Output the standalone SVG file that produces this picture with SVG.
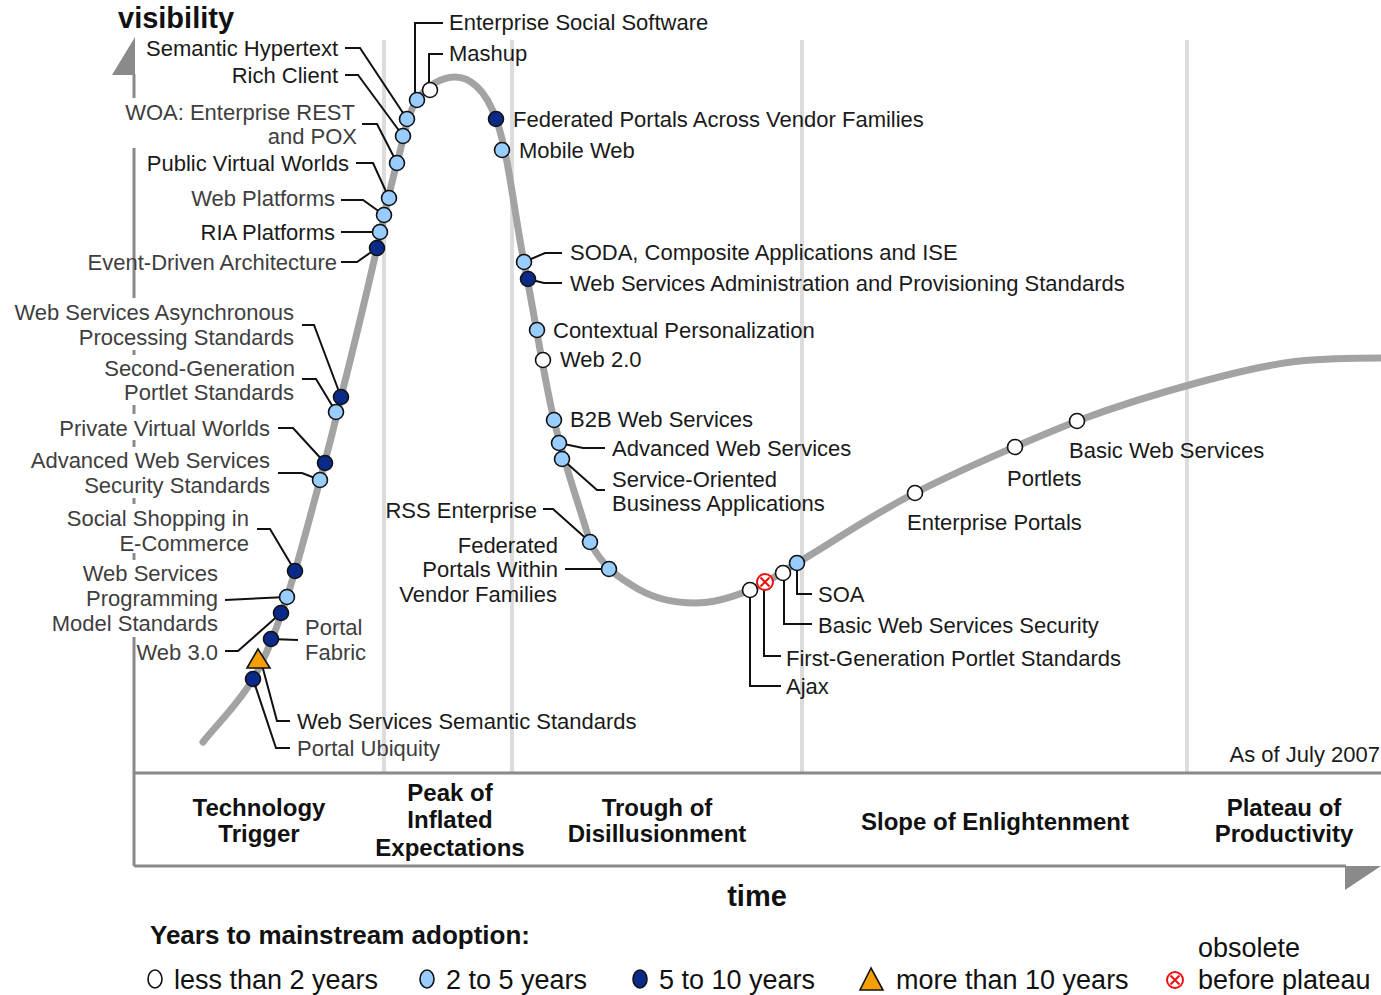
<svg xmlns="http://www.w3.org/2000/svg" width="1381" height="995" viewBox="0 0 1381 995">
<style>
text{font-family:"Liberation Sans",Arial,sans-serif;font-size:22px;fill:#1a1a1a}
.g{fill:#3e3e3e}
.e{text-anchor:end}
.c{text-anchor:middle}
.ph{font-weight:bold;font-size:24px;fill:#111}
.lg{font-size:27px;fill:#111}
.bg{fill:#fff}
.grid{stroke:#dcdcdc;stroke-width:4}
.axis{stroke:#8a8a8a;stroke-width:3;fill:none}
.curve{stroke:#a3a3a3;stroke-width:7;fill:none;stroke-linecap:round;stroke-linejoin:round}
.cn{stroke:#111;stroke-width:2;fill:none}
.mk{stroke:#111;stroke-width:1.6}
.m0{fill:#fff}
.m1{fill:#99ccff}
.m2{fill:#0a2a8a}
.tri{fill:#f5a000;stroke:#111;stroke-width:1.6}
.ob{fill:#fff;stroke:#ee1111;stroke-width:2}
.obx{stroke:#ee1111;stroke-width:2}
</style>
<defs>
<g id="obs"><circle class="ob" r="8"/><path class="obx" d="M-4.5,-4.5L4.5,4.5M4.5,-4.5L-4.5,4.5"/></g>
</defs>
<rect width="1381" height="995" fill="#fff"/>
<g id="grid">
<line class="grid" x1="384" y1="40" x2="384" y2="773"/>
<line class="grid" x1="512" y1="40" x2="512" y2="773"/>
<line class="grid" x1="802" y1="40" x2="802" y2="773"/>
<line class="grid" x1="1187" y1="40" x2="1187" y2="773"/>
</g>
<g id="axes">
<line class="axis" x1="134" y1="74" x2="134" y2="866"/>
<polygon points="135,37 112,75 135,75" fill="#8a8a8a"/>
<line class="axis" x1="134" y1="773" x2="1381" y2="773"/>
<line class="axis" x1="134" y1="866" x2="1346" y2="866"/>
<polygon points="1345,866 1381,866 1345,890" fill="#8a8a8a"/>
<text x="118" y="28" style="font-weight:bold;font-size:29px;fill:#111">visibility</text>
<text x="757" y="906" class="c" style="font-weight:bold;font-size:29px;fill:#111">time</text>
<text x="1380" y="762" class="e">As of July 2007</text>
</g>
<g id="phases">
<text class="ph c" x="259" y="816">Technology</text>
<text class="ph c" x="259" y="842">Trigger</text>
<text class="ph c" x="450" y="801">Peak of</text>
<text class="ph c" x="450" y="828">Inflated</text>
<text class="ph c" x="450" y="856">Expectations</text>
<text class="ph c" x="657" y="816">Trough of</text>
<text class="ph c" x="657" y="842">Disillusionment</text>
<text class="ph c" x="995" y="830">Slope of Enlightenment</text>
<text class="ph c" x="1284" y="816">Plateau of</text>
<text class="ph c" x="1284" y="842">Productivity</text>
</g>
<path id="hype-curve" class="curve" d="M203,742 C220,721 239,703 253,679 C267,655 276,630 287,597 C298,564 311,513 320,480 C329,447 332,436 341,397 C351,358 368,287 377,248 C386,209 390,188 397,163 C404,138 407,114 417,100 C427,86 441,77 455,77 C469,77 485,88 496,119 C508,150 514,212 524,262 C534,312 543,373 554,420 C565,467 576,495 590,542 C604,570 623,580 640,590 C658,600 677,603 695,603 C713,603 733,597 750,590 C767,583 770,579 797,563 C825,547 868,517 915,493 C962,469 1030,440 1077,421 C1125,403 1163,392 1200,382 C1237,372 1270,364 1300,361 C1330,358 1354,358 1381,358"/>
<g id="connectors">
<polyline class="cn" points="345,48 360,48 407,119"/>
<polyline class="cn" points="345,75 358,75 403,136"/>
<polyline class="cn" points="362,124 377,124 397,163"/>
<polyline class="cn" points="356,163 373,163 389,198"/>
<polyline class="cn" points="341,200 363,200 384,215"/>
<polyline class="cn" points="341,232 380,232"/>
<polyline class="cn" points="341,262 357,262 377,248"/>
<polyline class="cn" points="302,325 314,325 341,397"/>
<polyline class="cn" points="302,379 316,379 336,412"/>
<polyline class="cn" points="278,428 293,428 325,463"/>
<polyline class="cn" points="278,473 302,473 320,480"/>
<polyline class="cn" points="257,529 270,529 295,571"/>
<polyline class="cn" points="225,600 287,597"/>
<polyline class="cn" points="225,651 238,651 281,613"/>
<polyline class="cn" points="271,639 298,640"/>
<polyline class="cn" points="262,665 277,721 290,721"/>
<polyline class="cn" points="253,679 276,748 290,748"/>
<polyline class="cn" points="415,100 415,23 443,23"/>
<polyline class="cn" points="429,90 429,54 443,54"/>
<polyline class="cn" points="524,262 545,253 562,253"/>
<polyline class="cn" points="528,279 544,283 562,283"/>
<polyline class="cn" points="559,443 583,448 605,448"/>
<polyline class="cn" points="562,459 597,490 605,490"/>
<polyline class="cn" points="543,509 553,509 590,542"/>
<polyline class="cn" points="565,569 609,569"/>
<polyline class="cn" points="797,563 797,594 812,594"/>
<polyline class="cn" points="784,573 784,624 812,624"/>
<polyline class="cn" points="764,582 764,656 781,656"/>
<polyline class="cn" points="750,590 750,686 781,686"/>
</g>
<g id="n-woa"><rect class="bg" x="122" y="98" width="237" height="50"/><circle class="mk m1" cx="397" cy="163" r="7.5"/><text class="g e" x="355" y="120">WOA: Enterprise REST</text><text class="g e" x="357" y="144">and POX</text></g>
<g id="n-semantic-hypertext"><circle class="mk m1" cx="407" cy="119" r="7.5"/><text class="e" x="338" y="56">Semantic Hypertext</text></g>
<g id="n-rich-client"><circle class="mk m1" cx="403" cy="136" r="7.5"/><text class="e" x="338" y="83">Rich Client</text></g>
<g id="n-public-virtual-worlds"><circle class="mk m1" cx="389" cy="198" r="7.5"/><text class="e" x="349" y="171">Public Virtual Worlds</text></g>
<g id="n-web-platforms"><circle class="mk m1" cx="384" cy="215" r="7.5"/><text class="g e" x="335" y="206">Web Platforms</text></g>
<g id="n-ria-platforms"><circle class="mk m1" cx="380" cy="232" r="7.5"/><text class="e" x="335" y="240">RIA Platforms</text></g>
<g id="n-event-driven"><circle class="mk m2" cx="377" cy="248" r="7.5"/><text class="g e" x="337" y="270">Event-Driven Architecture</text></g>
<g id="n-ws-async"><rect class="bg" x="6" y="298" width="292" height="52"/><circle class="mk m2" cx="341" cy="397" r="7.5"/><text class="g e" x="294" y="320">Web Services Asynchronous</text><text class="g e" x="294" y="345">Processing Standards</text></g>
<g id="n-second-gen"><rect class="bg" x="100" y="355" width="198" height="50"/><circle class="mk m1" cx="336" cy="412" r="7.5"/><text class="g e" x="295" y="376">Second-Generation</text><text class="g e" x="294" y="400">Portlet Standards</text></g>
<g id="n-private-vw"><rect class="bg" x="55" y="414" width="218" height="26"/><circle class="mk m2" cx="325" cy="463" r="7.5"/><text class="g e" x="270" y="436">Private Virtual Worlds</text></g>
<g id="n-adv-ws-sec"><rect class="bg" x="25" y="447" width="248" height="51"/><circle class="mk m1" cx="320" cy="480" r="7.5"/><text class="g e" x="270" y="468">Advanced Web Services</text><text class="g e" x="270" y="493">Security Standards</text></g>
<g id="n-social-shopping"><rect class="bg" x="62" y="504" width="190" height="49"/><circle class="mk m2" cx="295" cy="571" r="7.5"/><text class="g e" x="249" y="526">Social Shopping in</text><text class="g e" x="249" y="551">E-Commerce</text></g>
<g id="n-ws-prog"><rect class="bg" x="46" y="560" width="175" height="77"/><circle class="mk m1" cx="287" cy="597" r="7.5"/><text class="g e" x="218" y="581">Web Services</text><text class="g e" x="218" y="606">Programming</text><text class="g e" x="218" y="631">Model Standards</text></g>
<g id="n-web30"><circle class="mk m2" cx="281" cy="613" r="7.5"/><text class="g e" x="218" y="660">Web 3.0</text></g>
<g id="n-portal-fabric"><circle class="mk m2" cx="271" cy="639" r="7.5"/><text class="g" x="305" y="635">Portal</text><text class="g" x="305" y="660">Fabric</text></g>
<g id="n-ws-semantic"><polygon class="tri" points="258,649 247,668 270,668"/><text x="297" y="729">Web Services Semantic Standards</text></g>
<g id="n-portal-ubiquity"><circle class="mk m2" cx="253" cy="679" r="7.5"/><text class="g" x="297" y="756">Portal Ubiquity</text></g>
<g id="n-ess"><circle class="mk m1" cx="417" cy="100" r="7.5"/><text x="449" y="30">Enterprise Social Software</text></g>
<g id="n-mashup"><circle class="mk m0" cx="430" cy="90" r="7.5"/><text x="449" y="61">Mashup</text></g>
<g id="n-fed-across"><circle class="mk m2" cx="496" cy="119" r="7.5"/><text x="513" y="127">Federated Portals Across Vendor Families</text></g>
<g id="n-mobile-web"><circle class="mk m1" cx="502" cy="150" r="7.5"/><text x="519" y="158">Mobile Web</text></g>
<g id="n-soda"><circle class="mk m1" cx="524" cy="262" r="7.5"/><text x="570" y="260">SODA, Composite Applications and ISE</text></g>
<g id="n-ws-admin"><circle class="mk m2" cx="528" cy="279" r="7.5"/><text x="570" y="291">Web Services Administration and Provisioning Standards</text></g>
<g id="n-contextual"><circle class="mk m1" cx="537" cy="330" r="7.5"/><text x="553" y="338">Contextual Personalization</text></g>
<g id="n-web20"><circle class="mk m0" cx="543" cy="360" r="7.5"/><text x="560" y="367">Web 2.0</text></g>
<g id="n-b2b"><circle class="mk m1" cx="554" cy="420" r="7.5"/><text x="570" y="427">B2B Web Services</text></g>
<g id="n-adv-ws"><circle class="mk m1" cx="559" cy="443" r="7.5"/><text x="612" y="456">Advanced Web Services</text></g>
<g id="n-soba"><circle class="mk m1" cx="562" cy="459" r="7.5"/><text x="612" y="487">Service-Oriented</text><text x="612" y="511">Business Applications</text></g>
<g id="n-rss"><circle class="mk m1" cx="590" cy="542" r="7.5"/><text class="e" x="537" y="518">RSS Enterprise</text></g>
<g id="n-fed-within"><circle class="mk m1" cx="609" cy="569" r="7.5"/><text class="e" x="558" y="553">Federated</text><text class="e" x="558" y="577">Portals Within</text><text class="e" x="557" y="602">Vendor Families</text></g>
<g id="n-ajax"><circle class="mk m0" cx="750" cy="590" r="7.5"/><text x="786" y="694">Ajax</text></g>
<g id="n-first-gen"><use href="#obs" x="765" y="582"/><text x="786" y="666">First-Generation Portlet Standards</text></g>
<g id="n-basic-wss"><circle class="mk m0" cx="783" cy="573" r="7.5"/><text x="818" y="633">Basic Web Services Security</text></g>
<g id="n-soa"><circle class="mk m1" cx="797" cy="563" r="7.5"/><text x="818" y="602">SOA</text></g>
<g id="n-enterprise-portals"><circle class="mk m0" cx="915" cy="493" r="7.5"/><text x="907" y="530">Enterprise Portals</text></g>
<g id="n-portlets"><circle class="mk m0" cx="1015" cy="447" r="7.5"/><text x="1007" y="486">Portlets</text></g>
<g id="n-basic-ws"><circle class="mk m0" cx="1077" cy="421" r="7.5"/><text x="1069" y="458">Basic Web Services</text></g>
<g id="legend">
<text x="150" y="944" style="font-weight:bold;font-size:26px;fill:#111">Years to mainstream adoption:</text>
<ellipse class="mk m0" cx="155" cy="979" rx="7" ry="9"/><text class="lg" x="174" y="989">less than 2 years</text>
<ellipse class="mk m1" cx="427" cy="979" rx="7" ry="9"/><text class="lg" x="446" y="989">2 to 5 years</text>
<ellipse class="mk m2" cx="640" cy="979" rx="7" ry="9"/><text class="lg" x="659" y="989">5 to 10 years</text>
<polygon class="tri" points="871,968 860,990 883,990"/><text class="lg" x="896" y="989">more than 10 years</text>
<use href="#obs" x="1175" y="980"/><text class="lg" x="1198" y="957">obsolete</text><text class="lg" x="1198" y="989">before plateau</text>
</g>
</svg>
